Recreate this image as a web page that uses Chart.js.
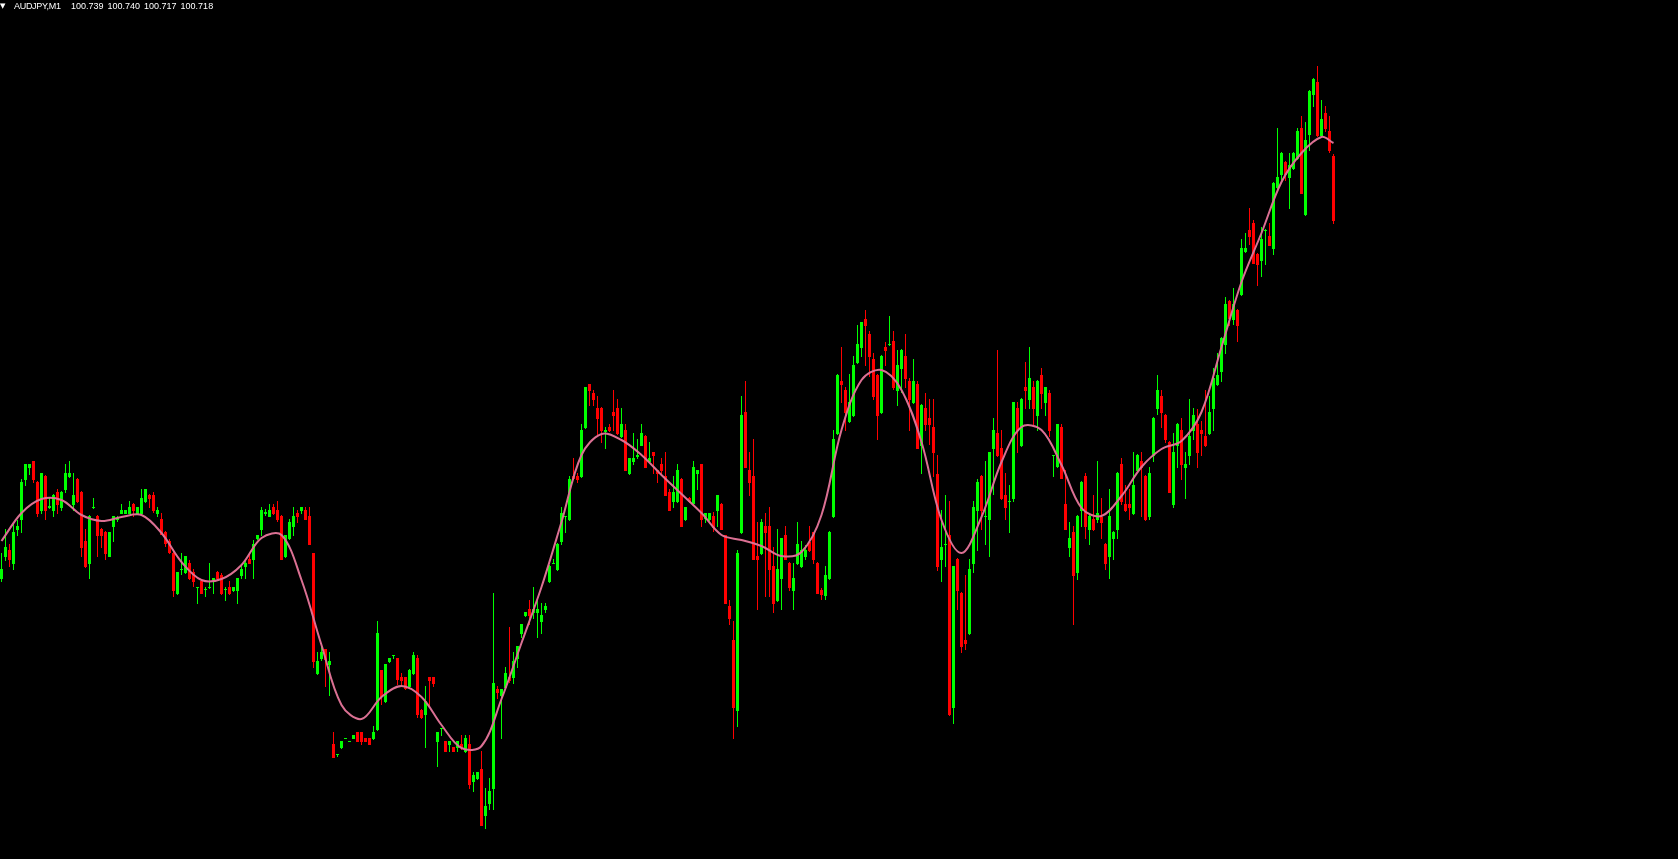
<!DOCTYPE html>
<html>
<head>
<meta charset="utf-8">
<script src="https://cdn.jsdelivr.net/npm/chart.js@4.4.1/dist/chart.umd.min.js"></script>
<style>
html,body{margin:0;padding:0;background:#000;overflow:hidden;}
#wrap{position:relative;width:1678px;height:859px;background:#000;}
#c{position:absolute;left:0;top:0;}
#hdr{position:absolute;left:0px;top:0px;height:12px;color:#ffffff;font-family:"Liberation Sans",Arial,sans-serif;font-size:9px;line-height:12px;white-space:pre;}
#tri{position:absolute;left:0px;top:0px;font-family:"DejaVu Sans",sans-serif;font-size:7px;line-height:12px;}
#sym{position:absolute;left:14px;top:0px;letter-spacing:-0.3px;}
#vals{position:absolute;left:71px;top:0px;word-spacing:1.5px;}
</style>
</head>
<body>
<div id="wrap">
<canvas id="c" width="1678" height="859"></canvas>
<div id="hdr"><span id="tri"></span><span id="sym"></span><span id="vals"></span></div>
</div>
<script>
// ---- header text ----
const symbolLabel = 'AUDJPY,M1';
const headerOHLC = ['100.739', '100.740', '100.717', '100.718'];

// ---- candle data (one per minute bar, oldest first) ----
const opens = [
100.361,100.383,100.390,100.376,100.410,100.420,100.460,100.472,100.479,100.458,
100.429,100.464,100.432,100.429,100.448,100.432,100.450,100.463,100.435,100.461,
100.448,100.399,100.376,100.432,100.424,100.411,100.408,100.383,100.413,100.420,
100.426,100.426,100.426,100.436,100.426,100.426,100.438,100.445,100.445,100.426,
100.421,100.408,100.399,100.387,100.346,100.370,100.367,100.377,100.368,100.352,
100.359,100.350,100.352,100.360,100.368,100.365,100.350,100.353,100.349,100.349,
100.364,100.373,100.381,100.380,100.401,100.410,100.426,100.423,100.433,100.430,
100.424,100.383,100.401,100.413,100.427,100.429,100.430,100.424,100.387,100.266,
100.281,100.291,100.275,100.196,100.185,100.192,100.201,100.198,100.201,100.208,
100.208,100.202,100.202,100.201,100.210,100.270,100.238,100.278,100.284,100.282,
100.263,100.263,100.253,100.266,100.282,100.230,100.225,100.263,100.263,100.198,
100.211,100.199,100.195,100.193,100.192,100.196,100.188,100.196,100.158,100.161,
100.171,100.124,100.136,100.151,100.251,100.244,100.252,100.263,100.262,100.281,
100.306,100.324,100.331,100.327,100.327,100.318,100.330,100.358,100.376,100.370,
100.398,100.423,100.420,100.464,100.464,100.463,100.512,100.556,100.547,100.532,
100.532,100.508,100.513,100.528,100.532,100.503,100.510,100.466,100.478,100.483,
100.494,100.504,100.478,100.488,100.470,100.476,100.464,100.448,100.438,100.438,
100.461,100.420,100.442,100.436,100.466,100.476,100.421,100.420,100.424,100.429,
100.436,100.405,100.334,100.300,100.229,100.407,100.528,100.470,100.464,100.384,
100.386,100.414,100.414,100.374,100.339,100.361,100.405,100.377,100.349,100.376,
100.373,100.383,100.398,100.408,100.377,100.350,100.344,100.361,100.423,100.506,
100.559,100.550,100.518,100.524,100.577,100.592,100.621,100.606,100.581,100.565,
100.527,100.593,100.595,100.599,100.549,100.571,100.584,100.559,100.537,100.556,
100.494,100.532,100.522,100.513,100.466,100.380,100.395,100.405,100.232,100.381,
100.347,100.300,100.306,100.376,100.429,100.464,100.423,100.420,100.491,100.507,
100.492,100.445,100.438,100.441,100.532,100.494,100.553,100.540,100.553,100.524,
100.565,100.537,100.547,100.484,100.473,100.513,100.436,100.392,100.408,100.367,
100.429,100.464,100.410,100.421,100.420,100.423,100.396,100.383,100.401,100.410,
100.476,100.436,100.436,100.426,100.469,100.479,100.464,100.423,100.484,100.531,
100.544,100.525,100.498,100.435,100.494,100.510,100.472,100.484,100.509,100.516,
100.510,100.504,100.506,100.531,100.555,100.568,100.595,100.639,100.620,100.630,
100.645,100.688,100.710,100.717,100.686,100.679,100.709,100.704,100.691,100.752,
100.765,100.778,100.762,100.771,100.781,100.812,100.725,100.805,100.845,100.858,
100.804,100.827,100.809,100.784
];
const highs = [
100.387,100.411,100.396,100.418,100.420,100.461,100.476,100.476,100.479,100.459,
100.467,100.465,100.442,100.446,100.451,100.449,100.476,100.479,100.467,100.462,
100.449,100.411,100.425,100.442,100.425,100.412,100.409,100.408,100.424,100.424,
100.436,100.430,100.439,100.437,100.433,100.451,100.451,100.446,100.448,100.433,
100.427,100.409,100.401,100.388,100.368,100.387,100.384,100.380,100.371,100.353,
100.360,100.353,100.377,100.362,100.369,100.367,100.353,100.359,100.353,100.362,
100.374,100.380,100.386,100.400,100.405,100.433,100.431,100.436,100.436,100.439,
100.425,100.405,100.421,100.433,100.430,100.433,100.433,100.433,100.387,100.288,
100.294,100.291,100.288,100.208,100.186,100.199,100.202,100.199,100.205,100.208,
100.208,100.202,100.202,100.214,100.319,100.270,100.276,100.282,100.285,100.282,
100.267,100.263,100.271,100.288,100.285,100.231,100.254,100.263,100.263,100.208,
100.212,100.199,100.199,100.193,100.199,100.205,100.205,100.205,100.168,100.168,
100.189,100.152,100.162,100.347,100.254,100.251,100.273,100.313,100.288,100.294,
100.316,100.328,100.340,100.353,100.340,100.337,100.337,100.375,100.381,100.397,
100.433,100.424,100.464,100.482,100.467,100.516,100.553,100.556,100.550,100.544,
100.533,100.513,100.516,100.550,100.541,100.532,100.516,100.482,100.507,100.501,
100.516,100.505,100.498,100.488,100.470,100.482,100.488,100.451,100.464,100.476,
100.462,100.433,100.443,100.479,100.470,100.476,100.427,100.427,100.428,100.445,
100.437,100.405,100.340,100.319,100.390,100.544,100.559,100.488,100.501,100.418,
100.421,100.427,100.433,100.393,100.411,100.402,100.414,100.378,100.377,100.418,
100.399,100.395,100.414,100.408,100.378,100.352,100.374,100.409,100.510,100.566,
100.593,100.553,100.566,100.584,100.615,100.618,100.630,100.609,100.587,100.566,
100.585,100.598,100.624,100.609,100.590,100.591,100.606,100.562,100.581,100.559,
100.536,100.547,100.541,100.541,100.485,100.430,100.445,100.439,100.374,100.382,
100.348,100.365,100.381,100.439,100.461,100.465,100.479,100.488,100.522,100.590,
100.510,100.467,100.455,100.538,100.538,100.542,100.578,100.593,100.559,100.560,
100.572,100.553,100.550,100.485,100.516,100.516,100.470,100.418,100.414,100.425,
100.459,100.467,100.425,100.445,100.479,100.442,100.397,100.451,100.409,100.468,
100.482,100.455,100.451,100.488,100.486,100.488,100.465,100.473,100.523,100.565,
100.550,100.526,100.499,100.507,100.517,100.522,100.488,100.541,100.532,100.531,
100.519,100.550,100.544,100.572,100.587,100.603,100.643,100.640,100.652,100.631,
100.701,100.707,100.732,100.720,100.687,100.713,100.711,100.717,100.758,100.812,
100.788,100.779,100.787,100.788,100.812,100.824,100.818,100.850,100.862,100.874,
100.840,100.834,100.824,100.786
];
const lows = [
100.358,100.379,100.373,100.370,100.404,100.407,100.454,100.465,100.457,100.423,
100.426,100.420,100.431,100.423,100.426,100.429,100.447,100.462,100.429,100.437,
100.383,100.372,100.361,100.431,100.383,100.392,100.380,100.383,100.398,100.418,
100.426,100.426,100.426,100.423,100.426,100.425,100.437,100.432,100.427,100.423,
100.405,100.393,100.386,100.343,100.345,100.365,100.366,100.360,100.353,100.336,
100.346,100.343,100.351,100.346,100.360,100.345,100.339,100.345,100.348,100.336,
100.361,100.361,100.376,100.361,100.400,100.404,100.424,100.423,100.425,100.418,
100.380,100.382,100.400,100.404,100.417,100.426,100.420,100.395,100.272,100.265,
100.279,100.253,100.244,100.182,100.183,100.191,100.201,100.198,100.201,100.198,
100.195,100.198,100.195,100.200,100.209,100.235,100.237,100.277,100.281,100.255,
100.255,100.250,100.252,100.265,100.222,100.221,100.192,100.234,100.253,100.173,
100.204,100.188,100.188,100.188,100.188,100.190,100.187,100.151,100.148,100.160,
100.114,100.111,100.130,100.130,100.241,100.201,100.250,100.257,100.256,100.272,
100.302,100.323,100.315,100.321,100.302,100.306,100.327,100.357,100.376,100.369,
100.395,100.407,100.419,100.460,100.457,100.462,100.511,100.534,100.534,100.505,
100.497,100.491,100.508,100.509,100.505,100.502,100.469,100.465,100.475,100.481,
100.494,100.472,100.477,100.466,100.457,100.466,100.444,100.429,100.432,100.437,
100.413,100.419,100.437,100.435,100.450,100.413,100.417,100.419,100.408,100.413,
100.410,100.336,100.315,100.201,100.213,100.406,100.472,100.444,100.380,100.330,
100.385,100.343,100.343,100.327,100.338,100.330,100.380,100.349,100.330,100.375,
100.372,100.380,100.388,100.376,100.346,100.340,100.340,100.360,100.422,100.505,
100.537,100.509,100.517,100.523,100.576,100.583,100.574,100.563,100.540,100.500,
100.526,100.574,100.594,100.550,100.534,100.547,100.552,100.509,100.536,100.491,
100.466,100.509,100.495,100.463,100.369,100.358,100.373,100.224,100.216,100.330,
100.287,100.290,100.305,100.367,100.389,100.410,100.395,100.383,100.445,100.483,
100.440,100.420,100.407,100.438,100.487,100.493,100.531,100.531,100.515,100.509,
100.531,100.524,100.503,100.463,100.472,100.461,100.410,100.383,100.315,100.360,
100.413,100.401,100.395,100.409,100.417,100.401,100.370,100.361,100.380,100.401,
100.435,100.428,100.420,100.425,100.468,100.423,100.419,100.420,100.478,100.525,
100.512,100.497,100.447,100.432,100.472,100.460,100.441,100.475,100.500,100.472,
100.484,100.493,100.505,100.509,100.554,100.558,100.586,100.614,100.615,100.598,
100.644,100.687,100.695,100.676,100.654,100.663,100.675,100.694,100.685,100.751,
100.759,100.759,100.731,100.770,100.780,100.746,100.724,100.789,100.833,100.803,
100.803,100.808,100.787,100.716
];
const closes = [
100.371,100.393,100.380,100.408,100.414,100.458,100.476,100.476,100.460,100.426,
100.467,100.429,100.434,100.445,100.435,100.448,100.467,100.467,100.445,100.438,
100.392,100.373,100.424,100.433,100.404,100.404,100.386,100.408,100.424,100.422,
100.430,100.430,100.433,100.429,100.433,100.442,100.451,100.441,100.429,100.430,
100.405,100.396,100.387,100.349,100.368,100.371,100.384,100.361,100.358,100.353,
100.346,100.351,100.353,100.362,100.361,100.346,100.351,100.346,100.353,100.362,
100.371,100.377,100.376,100.396,100.405,100.430,100.428,100.430,100.426,100.420,
100.380,100.405,100.418,100.424,100.423,100.433,100.420,100.395,100.278,100.279,
100.288,100.280,100.279,100.182,100.186,100.199,100.202,100.199,100.205,100.198,
100.198,100.198,100.195,100.208,100.307,100.243,100.276,100.282,100.285,100.260,
100.259,100.251,100.270,100.285,100.225,100.222,100.239,100.259,100.256,100.208,
100.212,100.188,100.199,100.188,100.199,100.192,100.202,100.155,100.165,100.168,
100.114,100.134,100.149,100.257,100.247,100.251,100.267,100.259,100.279,100.294,
100.316,100.328,100.324,100.331,100.331,100.325,100.334,100.374,100.377,100.396,
100.427,100.424,100.461,100.461,100.460,100.510,100.553,100.549,100.540,100.521,
100.509,100.510,100.509,100.524,100.506,100.516,100.469,100.482,100.482,100.485,
100.507,100.472,100.482,100.484,100.466,100.469,100.444,100.429,100.448,100.470,
100.413,100.433,100.438,100.473,100.470,100.420,100.427,100.427,100.412,100.445,
100.410,100.336,100.321,100.232,100.387,100.525,100.472,100.457,100.380,100.380,
100.418,100.407,100.370,100.336,100.371,100.402,100.380,100.352,100.362,100.396,
100.390,100.390,100.389,100.380,100.346,100.345,100.365,100.408,100.501,100.565,
100.555,100.527,100.538,100.575,100.596,100.618,100.614,100.583,100.543,100.524,
100.584,100.589,100.596,100.552,100.575,100.590,100.561,100.540,100.559,100.491,
100.535,100.515,100.515,100.487,100.373,100.393,100.396,100.225,100.374,100.349,
100.293,100.296,100.371,100.433,100.458,100.429,100.424,100.488,100.510,100.484,
100.441,100.432,100.439,100.538,100.509,100.541,100.549,100.562,100.531,100.559,
100.546,100.553,100.509,100.485,100.516,100.461,100.410,100.402,100.364,100.424,
100.458,100.413,100.424,100.410,100.427,100.417,100.376,100.424,100.408,100.467,
100.438,100.429,100.432,100.455,100.485,100.472,100.420,100.467,100.522,100.550,
100.527,100.500,100.447,100.488,100.516,100.475,100.476,100.504,100.525,100.487,
100.506,100.494,100.528,100.562,100.565,100.602,100.636,100.621,100.636,100.614,
100.692,100.692,100.703,100.676,100.675,100.701,100.710,100.694,100.757,100.763,
100.787,100.765,100.775,100.787,100.809,100.746,100.800,100.849,100.861,100.804,
100.821,100.811,100.789,100.719
];

// ---- smoothed moving-average line, read at every 5th bar ----
const maBars = [0,5,10,15,20,25,30,35,40,45,50,55,60,65,70,75,80,85,90,95,
  100,105,110,115,120,125,130,135,140,145,150,155,160,165,170,175,180,185,190,195,
  200,205,210,215,220,225,230,235,240,245,250,255,260,265,270,275,280,285,290,295,
  300,305,310,315,320,325,330,333];
const maValues = [100.399,100.427,100.441,100.440,100.425,100.419,100.423,100.425,100.407,100.378,
  100.360,100.361,100.375,100.402,100.405,100.360,100.295,100.235,100.221,100.243,
  100.254,100.243,100.215,100.192,100.194,100.241,100.297,100.353,100.418,100.485,
  100.506,100.500,100.485,100.465,100.446,100.427,100.405,100.400,100.394,100.384,
  100.388,100.425,100.510,100.560,100.570,100.550,100.498,100.420,100.387,100.423,
  100.478,100.513,100.510,100.475,100.432,100.424,100.444,100.473,100.491,100.499,
  100.528,100.593,100.658,100.707,100.758,100.787,100.803,100.797];

// ---- header ----
document.getElementById('tri').textContent = '\u25BC';
document.getElementById('sym').textContent = symbolLabel;
document.getElementById('vals').textContent = headerOHLC.join(' ');

// ---- build datasets ----
const UP = '#00ff00', DOWN = '#ff0000';
const colors = opens.map((o, i) => closes[i] >= o ? UP : DOWN);
const bodies = opens.map((o, i) => ({ x: i, y: [o, closes[i]] }));
const wicks = opens.map((o, i) => ({ x: i, y: [lows[i], highs[i]] }));
const maData = maBars.map((b, j) => ({ x: b, y: maValues[j] }));

new Chart(document.getElementById('c').getContext('2d'), {
  type: 'bar',
  data: {
    datasets: [
      { type: 'line', data: maData, borderColor: '#DB7093', borderWidth: 2,
        pointRadius: 0, fill: false, tension: 0.35, order: 0 },
      { type: 'bar', data: bodies, backgroundColor: colors, borderWidth: 0,
        barThickness: 3, minBarLength: 1, grouped: false, inflateAmount: 0, order: 1 },
      { type: 'bar', data: wicks, backgroundColor: colors, borderWidth: 0,
        barThickness: 1, minBarLength: 1, grouped: false, inflateAmount: 0, order: 2 }
    ]
  },
  options: {
    responsive: false,
    animation: false,
    events: [],
    layout: { padding: 0 },
    plugins: { legend: { display: false }, tooltip: { enabled: false }, title: { display: false } },
    scales: {
      x: { type: 'linear', display: false, offset: false, min: -0.375, max: 419.125 },
      y: { type: 'linear', display: false, min: 100.081, max: 100.940 }
    }
  }
});
</script>
</body>
</html>
